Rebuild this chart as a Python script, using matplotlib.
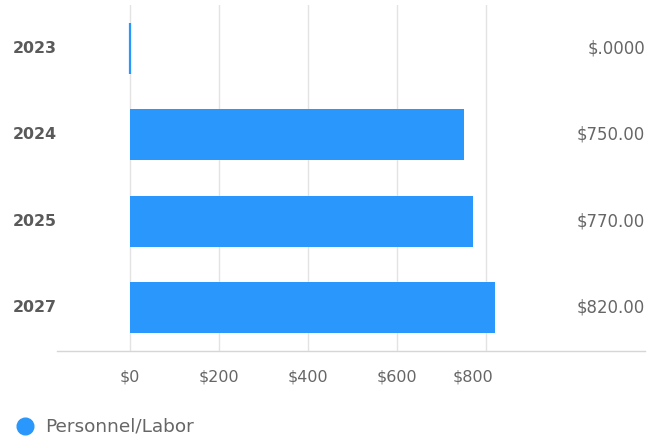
import matplotlib
matplotlib.use("Agg")
import matplotlib.pyplot as plt
import matplotlib.transforms as mtransforms
from matplotlib.lines import Line2D

categories = ["2023", "2024", "2025", "2027"]
values = [0, 750, 770, 820]
value_labels = ["$.0000", "$750.00", "$770.00", "$820.00"]
x_ticks = [0, 200, 400, 600, 800]
x_tick_labels = ["$0", "$200", "$400", "$600", "$800"]
series_name = "Personnel/Labor"

BAR = "#2997fb"
TEXT = "#666666"
W, H = 649, 440
DPI = 100

plt.rcParams["font.family"] = ["DejaVu Sans"]

fig = plt.figure(figsize=(W / DPI, H / DPI), dpi=DPI)
ax = fig.add_axes([57 / W, (H - 351) / H, (645 - 57) / W, (351 - 5) / H])

xmin, xmax = -164, 1157
ax.set_xlim(xmin, xmax)
n = len(categories)
ax.set_ylim(n - 0.5, -0.5)

for t in x_ticks:
    ax.axvline(t, color="#e3e3e3", lw=1, zorder=0)

ypos = list(range(n))
ax.barh(ypos, values, height=0.59, color=BAR, zorder=2)
# keep zero-valued bars visible as a thin sliver
for y, v in zip(ypos, values):
    if v == 0:
        ax.barh(y, v, height=0.59, color=BAR, edgecolor=BAR, lw=1.6, zorder=2)

for s in ["top", "right", "left"]:
    ax.spines[s].set_visible(False)
ax.spines["bottom"].set_color("#d6d6d6")
ax.spines["bottom"].set_linewidth(1)

ax.set_xticks(x_ticks)
ax.set_xticklabels(x_tick_labels, fontsize=11.5, color=TEXT)
ax.tick_params(axis="x", length=0, pad=13)
ax.set_yticks([])
# nudge the last tick label inward
last = ax.get_xticklabels()[-1]
last.set_transform(last.get_transform() +
                   mtransforms.ScaledTranslation(-13 / DPI, 0, fig.dpi_scale_trans))

for y, cat in zip(ypos, categories):
    ax.text(-0.0, y, cat, transform=ax.get_yaxis_transform(), ha="right",
            va="center", fontsize=11.4, fontweight="bold", color="#5a5a5a")

for y, lab in zip(ypos, value_labels):
    ax.text(1.0, y, lab, transform=ax.get_yaxis_transform(), ha="right",
            va="center", fontsize=11.9, color=TEXT)

# legend marker and label
fig.add_artist(Line2D([25 / W], [(H - 426) / H], marker="o", color="none",
                      markerfacecolor=BAR, markeredgecolor=BAR,
                      markersize=12, transform=fig.transFigure))
fig.text(45 / W, (H - 426) / H, series_name, ha="left", va="center",
         fontsize=13.3, color=TEXT)

fig.savefig("out.png", dpi=DPI, facecolor="white")
